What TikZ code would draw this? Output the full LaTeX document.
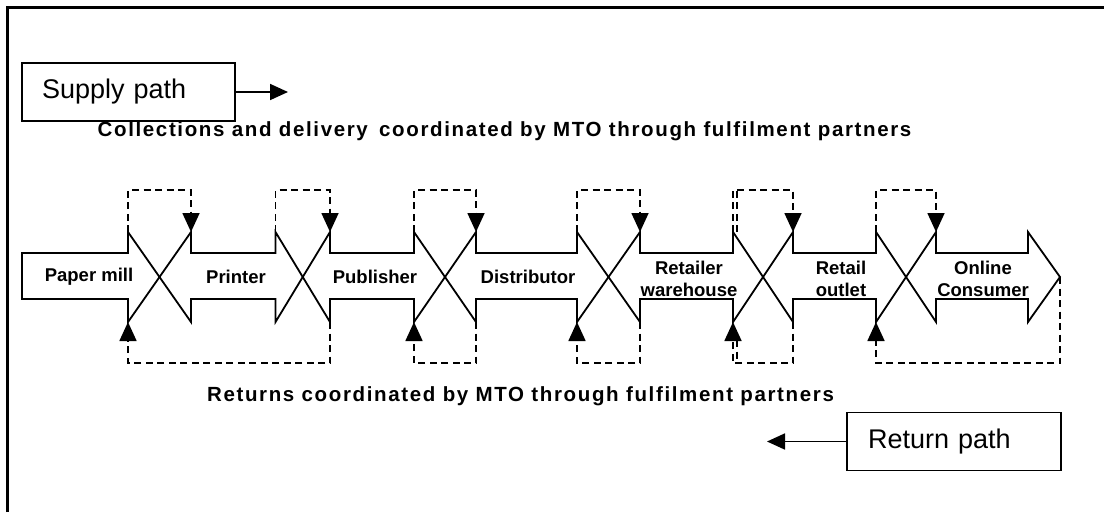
\documentclass[tikz,border=0pt]{standalone}
\usepackage{fontspec}
\setmainfont{Liberation Sans}
\usetikzlibrary{arrows.meta}
\begin{document}
\begin{tikzpicture}[x=1pt,y=-1pt,
  stageshape/.style={draw, line width=1.8pt, line join=miter},
  dashline/.style={dash pattern=on 7pt off 4.5pt, line width=1.7pt},
  flow/.style={dashline, -{Triangle[length=19pt,width=17pt]}},
  legend/.style={draw, line width=1.8pt, minimum height=58pt, align=left,
    font=\fontsize{27}{30}\selectfont},
  legendarrow/.style={line width=1.8pt, -{Triangle[length=18pt,width=16pt]}},
  stage/.style={font=\fontsize{18.5}{21.5}\selectfont\bfseries, align=center, inner sep=0pt},
  caption/.style={font=\fontsize{20.5}{24}\selectfont\bfseries\addfontfeature{LetterSpace=8}, inner sep=0pt}
]
\useasboundingbox (0,0) rectangle (1104,512);

% outer frame (open to the right and bottom)
\draw[line width=3pt] (7,512) -- (7,7) -- (1104,7);

% legend boxes
\node[legend, text width=173pt, inner xsep=20pt] (supply) at (128.5,92) {Supply path};
\coordinate (supplytip) at (288,92);
\draw[legendarrow] (supply.east) -- (supplytip);

\node[legend, text width=172pt, inner xsep=21pt] (return) at (954,441.5) {Return path};
\coordinate (returntip) at (767,441.5);
\draw[legendarrow] (return.west) -- (returntip);

% captions
\node[caption] (supplycap) at (504.5,131) {Collections and delivery\hspace{0.55em}coordinated by MTO through fulfilment partners};
\node[caption] (returncap) at (520.5,396) {Returns coordinated by MTO through fulfilment partners};

% chain of notched block arrows
\draw[stageshape] (22,253) -- (128,253) -- (128,232) -- (159.5,277) -- (128,322) -- (128,299) -- (22,299) -- cycle;
\foreach \r/\cz/\l/\co in {191/159.5/275.5/302.75, 330/302.75/414/445, 476/445/577/608.5,
                           640/608.5/733/763, 793/763/876/906, 936/906/1028/1060}
  \draw[stageshape] (\r,232) -- (\r,253) -- (\l,253) -- (\l,232) -- (\co,277) -- (\l,322)
        -- (\l,299) -- (\r,299) -- (\r,322) -- (\cz,277) -- cycle;

% stage labels
\node[stage] (papermill)   at (89,277)  {Paper mill};
\node[stage] (printer)     at (236,277) {Printer};
\node[stage] (publisher)   at (375,277) {Publisher};
\node[stage] (distributor) at (528,277) {Distributor};
\node[stage] (warehouse)   at (689,279) {Retailer\\warehouse};
\node[stage] (outlet)      at (841,279) {Retail\\outlet};
\node[stage] (consumer)    at (983,279) {Online\\Consumer};

% junction corners
\foreach \n/\l/\r in {1/128/191, 2/275.5/330, 3/414/476, 4/577/640, 5/733/793, 6/876/936} {
  \coordinate (j\n-top-l) at (\l,232);
  \coordinate (j\n-top-r) at (\r,232);
  \coordinate (j\n-bot-l) at (\l,322);
  \coordinate (j\n-bot-r) at (\r,322);
}
\coordinate (chainend) at (1060,277);

% supply-side collections and deliveries
\foreach \n in {1,...,6}
  \draw[flow] (j\n-top-l) -- ++(0,-42) -| (j\n-top-r);
\draw[dashline] ([xshift=4pt]j5-top-l) -- ++(0,-42);

% returns
\draw[flow] (j2-bot-r) -- ++(0,41) -| (j1-bot-l);
\draw[flow] (j3-bot-r) -- ++(0,41) -| (j3-bot-l);
\draw[flow] (j4-bot-r) -- ++(0,41) -| (j4-bot-l);
\draw[flow] (j5-bot-r) -- ++(0,41) -| (j5-bot-l);
\draw[flow] (chainend) -- ++(0,86) -| (j6-bot-l);
\draw[dashline] ([xshift=4pt,yshift=-18pt]j5-bot-l) -- ++(0,23);
\end{tikzpicture}
\end{document}
